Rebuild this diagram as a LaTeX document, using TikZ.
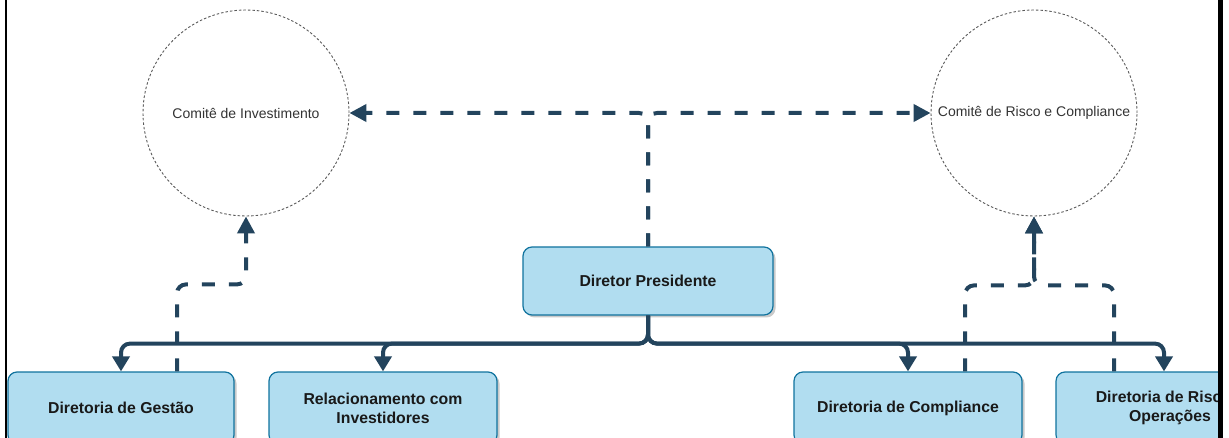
\documentclass[tikz,border=0pt]{standalone}
\usepackage{fontspec}
\setmainfont{Liberation Sans}
\usetikzlibrary{arrows.meta}
\usetikzlibrary{shadows}

\definecolor{navy}{HTML}{23445D}
\definecolor{caixa}{HTML}{B1DDF0}
\definecolor{borda}{HTML}{10739E}

\tikzset{
    dirbox/.style={draw=borda, fill=caixa, line width=1.2pt, rounded corners=9pt,
        minimum width=228pt, minimum height=72pt, inner sep=0pt, align=center,
        font=\fontsize{15.8}{19}\selectfont\bfseries, text=black!90,
        drop shadow={shadow xshift=2.5pt, shadow yshift=-2.5pt, fill=black!35, opacity=0.6}},
    comite/.style={circle, draw=black!65, line width=0.9pt, dash pattern=on 2.5pt off 2pt,
        minimum size=206pt, inner sep=0pt, font=\fontsize{14}{16}\selectfont, text=black!80},
    ramo/.style={draw=navy, line width=4pt, rounded corners=9pt, -{Triangle[length=15pt,width=17pt]}},
    elo/.style={draw=navy, line width=4pt, rounded corners=9pt, dash pattern=on 13pt off 14pt},
    ponta/.style={-{Triangle[length=17pt,width=17pt]}}
}

\begin{document}
\begin{tikzpicture}[x=1pt,y=-1pt]

            %\draw [help lines] (0,0) grid (1229,438);
            \useasboundingbox (0,0) rectangle (1229,438);

            \begin{scope}
            \clip (0,0) rectangle (1218,438);
            \path   (246,113)  node (ci) [comite] {Comitê de Investimento}
                    (1034,113) node (cr) [comite] {Comitê de Risco e Compliance}
                    (648,281)  node (dp) [dirbox, minimum width=250pt, minimum height=68pt] {Diretor Presidente}
                    (121,408) node (dg) [dirbox, minimum width=226pt] {Diretoria de Gestão}
                    (383,408) node (ri) [dirbox] {Relacionamento com\\Investidores}
                    (908,408) node (dc) [dirbox] {Diretoria de Compliance}
                    (1170,408) node (dr) [dirbox] {Diretoria de Risco e\\Operações};

            % subordinacao
            \draw[ramo] (dp.south) -- ++(0,28) -| (dg.north);
            \draw[ramo] (dp.south) -- ++(0,28) -| (ri.north);
            \draw[ramo] (dp.south) -- ++(0,28) -| (dc.north);
            \draw[ramo] (dp.south) -- ++(0,28) -| ([xshift=-6pt]dr.north);

            % comites
            \draw[elo,ponta] (dp.north) |- (ci.east);
            \draw[elo,ponta] (dp.north) |- (cr.west);
            \draw[elo,ponta] ([xshift=56pt]dg.north) -- ++(0,-87) -| (ci.south);
            \draw[elo,ponta] ([xshift=57pt]dc.north) -- ++(0,-86) -| (cr.south);
            \draw[elo,ponta] ([xshift=-56pt]dr.north) -- ++(0,-86) -| (cr.south);
            \end{scope}

            % moldura
            \draw[line width=2pt] (6,0) -- (6,438);
            \draw[line width=5pt] (1220.5,0) -- (1220.5,438);
        \end{tikzpicture}
\end{document}
